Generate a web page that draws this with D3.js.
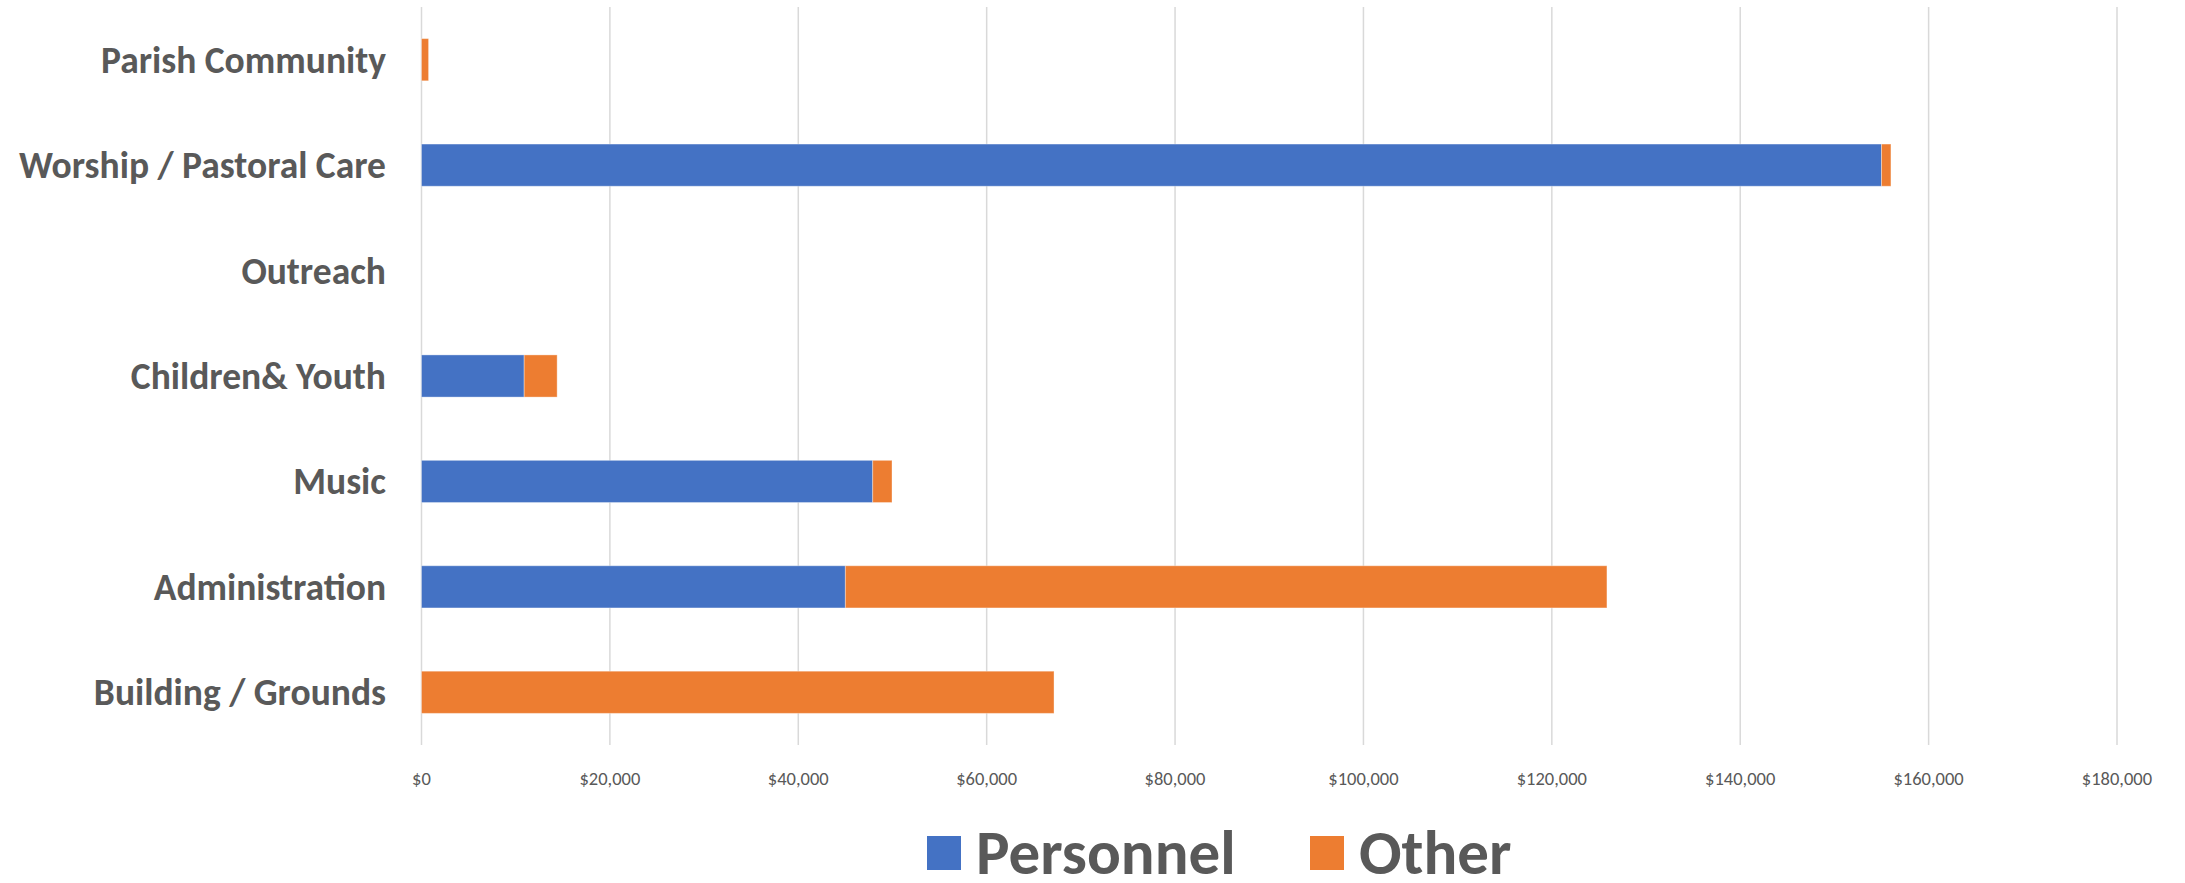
<!DOCTYPE html>
<html>
<head>
<meta charset="utf-8">
<script src="https://cdn.jsdelivr.net/npm/d3@7"></script>
<style>
  html, body { margin: 0; padding: 0; background: #fff; }
  svg { display: block; }
</style>
</head>
<body>
<svg id="chart" width="2185" height="883"></svg>
<script>
const categories = ["Parish Community", "Worship / Pastoral Care", "Outreach", "Children& Youth", "Music", "Administration", "Building / Grounds"];
const personnel = [0, 155000, 0, 10900, 47900, 45000, 0];
const other = [750, 1000, 0, 3500, 2050, 80850, 67150];
const seriesNames = ["Personnel", "Other"];
const seriesColors = ["#4472C4", "#ED7D31"];
const tickValues = [0, 20000, 40000, 60000, 80000, 100000, 120000, 140000, 160000, 180000];

const svg = d3.select("#chart");
const plotLeft = 421.5, plotRight = 2117, plotTop = 7, plotBottom = 745;

const x = d3.scaleLinear().domain([0, 180000]).range([plotLeft, plotRight]);
const y = d3.scaleBand().domain(categories).range([plotTop, plotBottom]).paddingInner(0.6).paddingOuter(0.3);

// gridlines
svg.append("g").selectAll("line").data(tickValues).join("line")
  .attr("x1", d => x(d)).attr("x2", d => x(d))
  .attr("y1", plotTop).attr("y2", plotBottom)
  .attr("stroke", "#d9d9d9").attr("stroke-width", 1.5);

// stacked data
const rows = categories.map((c, i) => ({cat: c, Personnel: personnel[i], Other: other[i]}));
const stack = d3.stack().keys(seriesNames)(rows);

const g = svg.append("g");
stack.forEach((layer, si) => {
  g.append("g").selectAll("rect").data(layer.filter(d => d[1] - d[0] > 0)).join("rect")
    .attr("x", d => x(d[0]))
    .attr("width", d => x(d[1]) - x(d[0]))
    .attr("y", d => y(d.data.cat))
    .attr("height", y.bandwidth())
    .attr("fill", seriesColors[si])
    .attr("stroke", "#ffffff").attr("stroke-opacity", 0.35).attr("stroke-width", 1);
});

// category labels
svg.append("g").selectAll("text").data(categories).join("text")
  .attr("x", 386)
  .attr("y", d => y(d) + y.bandwidth() / 2)
  .attr("text-anchor", "end")
  .attr("dominant-baseline", "central")
  .attr("font-family", "Carlito, Lato, sans-serif")
  .attr("font-weight", "bold")
  .attr("font-size", 37.5)
  .attr("fill", "#595959")
  .text(d => d);

// x axis labels
const fmt = d => "$" + d3.format(",")(d);
svg.append("g").selectAll("text").data(tickValues).join("text")
  .attr("x", d => x(d))
  .attr("y", 778)
  .attr("text-anchor", "middle")
  .attr("dominant-baseline", "central")
  .attr("font-family", "Carlito, Lato, sans-serif")
  .attr("font-size", 18.5)
  .attr("fill", "#595959")
  .text(fmt);

// legend
const legendX = [927, 1310];
const leg = svg.append("g");
seriesNames.forEach((s, i) => {
  leg.append("rect").attr("x", legendX[i]).attr("y", 836).attr("width", 34).attr("height", 34).attr("fill", seriesColors[i]);
  leg.append("text").attr("x", legendX[i] + 49).attr("y", 852)
    .attr("dominant-baseline", "central")
    .attr("font-family", "Carlito, Lato, sans-serif")
    .attr("font-size", 63)
    .attr("font-weight", "600")
    .attr("fill", "#595959")
    .text(s);
});
</script>
</body>
</html>
